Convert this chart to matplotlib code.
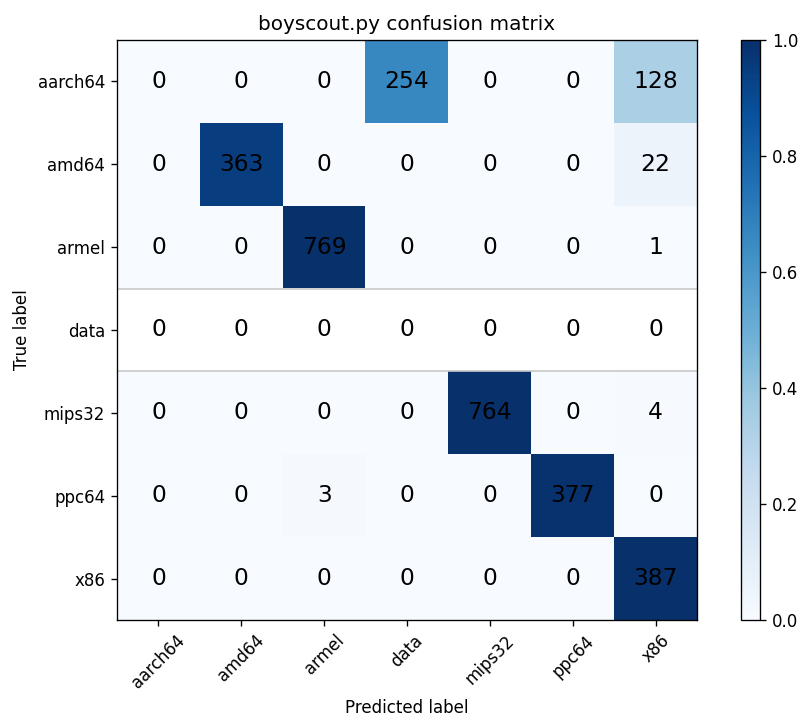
import numpy as np
import matplotlib
matplotlib.use("Agg")
import matplotlib.pyplot as plt

# classes and raw counts (rows = true, cols = predicted)
classes = ["aarch64", "amd64", "armel", "data", "mips32", "ppc64", "x86"]
row_aarch64 = [0, 0, 0, 254, 0, 0, 128]
row_amd64 = [0, 363, 0, 0, 0, 0, 22]
row_armel = [0, 0, 769, 0, 0, 0, 1]
row_data = [0, 0, 0, 0, 0, 0, 0]
row_mips32 = [0, 0, 0, 0, 764, 0, 4]
row_ppc64 = [0, 0, 3, 0, 0, 377, 0]
row_x86 = [0, 0, 0, 0, 0, 0, 387]

cm = np.array([row_aarch64, row_amd64, row_armel, row_data,
               row_mips32, row_ppc64, row_x86], dtype=float)
# normalise each row (the empty row becomes nan -> white)
with np.errstate(invalid="ignore", divide="ignore"):
    cmn = cm / cm.sum(axis=1)[:, None]

cmap = plt.get_cmap("Blues").copy()
cmap.set_bad("white")

dpi = 120
fig = plt.figure(figsize=(811/dpi, 713/dpi), dpi=dpi)
ax = fig.add_axes([117/811, 93/713, 580/811, 580/713])
cax = fig.add_axes([741/811, 93/713, 19/811, 580/713])

im = ax.imshow(np.ma.masked_invalid(cmn), interpolation="nearest", cmap=cmap,
               vmin=0, vmax=1, aspect="auto")
fig.colorbar(im, cax=cax)

# faint edges around the empty row
for i in np.where(cm.sum(axis=1) == 0)[0]:
    ax.axhline(i - 0.5, color="#c8c8c8", lw=1)
    ax.axhline(i + 0.5, color="#c8c8c8", lw=1)

ax.set_title("boyscout.py confusion matrix")
ticks = np.arange(len(classes))
ax.set_xticks(ticks)
ax.set_xticklabels(classes, rotation=45)
ax.set_yticks(ticks)
ax.set_yticklabels(classes)
ax.set_xlim(-0.5, len(classes) - 0.5)
ax.set_ylim(len(classes) - 0.5, -0.5)

for i in range(cm.shape[0]):
    for j in range(cm.shape[1]):
        ax.text(j, i, "%d" % cm[i, j], ha="center", va="center",
                color="black", fontsize=14)

ax.set_ylabel("True label")
ax.set_xlabel("Predicted label")

fig.savefig("out.png", dpi=dpi)
